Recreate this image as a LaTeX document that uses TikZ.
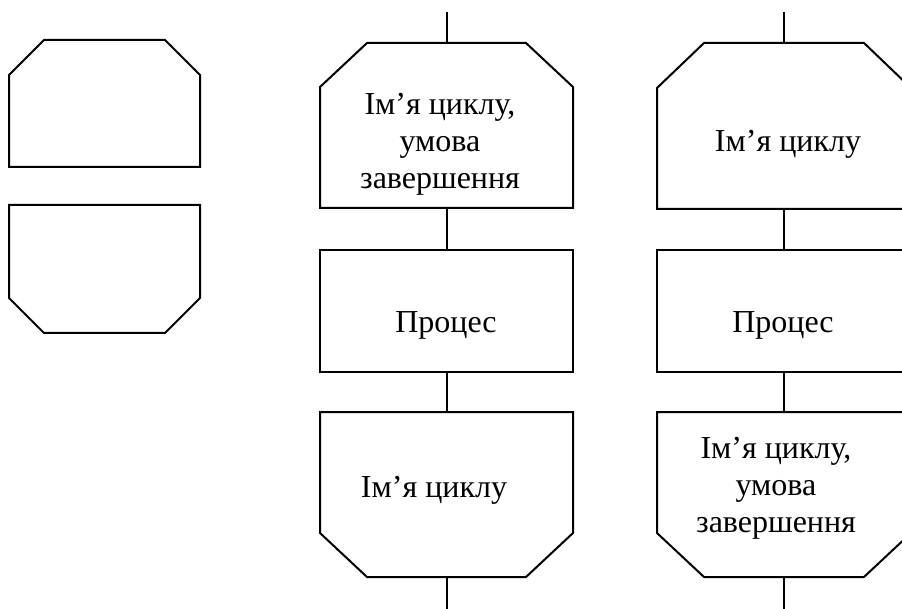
\documentclass[tikz,border=0pt]{standalone}
\usepackage{fontspec}
\setmainfont{Liberation Serif}
\begin{document}
\begin{tikzpicture}[x=1pt,y=-1pt,
  shp/.style={inner sep=0pt,outer sep=0pt},
  ln/.style={line width=2pt,black},
  lbl/.style={inner sep=0pt,font=\fontsize{32}{37}\selectfont,align=center}]
\useasboundingbox (0,0) rectangle (902,609);
\clip (0,0) rectangle (902,609);
% ---- left legend shapes
\node[shp,minimum width=191pt,minimum height=127pt] (lt) at (104.5,103.5) {};
\node[shp,minimum width=191pt,minimum height=128pt] (lb) at (104.5,269) {};
% ---- middle column
\node[shp,minimum width=253pt,minimum height=165pt] (mt) at (446.5,125.5) {};
\node[shp,minimum width=253pt,minimum height=122pt] (mp) at (446.5,311) {};
\node[shp,minimum width=253pt,minimum height=165pt] (mb) at (446.5,494.5) {};
% ---- right column
\node[shp,minimum width=254pt,minimum height=166pt] (rt) at (784,126) {};
\node[shp,minimum width=254pt,minimum height=122pt] (rp) at (784,311) {};
\node[shp,minimum width=254pt,minimum height=165pt] (rb) at (784,494.5) {};
\coordinate (mtop) at (446.5,12);
\coordinate (mend) at (446.5,609);
\coordinate (rtop) at (784,12);
\coordinate (rend) at (784,609);
% shapes: loop start (top chamfered)
\draw[ln] ([shift={(35,0)}]lt.north west) -- ([shift={(-35,0)}]lt.north east) -- ([shift={(0,35)}]lt.north east) -- (lt.south east) -- (lt.south west) -- ([shift={(0,35)}]lt.north west) -- cycle;
\draw[ln] ([shift={(0,-35)}]lb.south west) -- (lb.north west) -- (lb.north east) -- ([shift={(0,-35)}]lb.south east) -- ([shift={(-35,0)}]lb.south east) -- ([shift={(35,0)}]lb.south west) -- cycle;
\draw[ln] ([shift={(47,0)}]mt.north west) -- ([shift={(-47,0)}]mt.north east) -- ([shift={(0,44)}]mt.north east) -- (mt.south east) -- (mt.south west) -- ([shift={(0,44)}]mt.north west) -- cycle;
\draw[ln] (mp.north west) rectangle (mp.south east);
\draw[ln] ([shift={(0,-44)}]mb.south west) -- (mb.north west) -- (mb.north east) -- ([shift={(0,-44)}]mb.south east) -- ([shift={(-47,0)}]mb.south east) -- ([shift={(47,0)}]mb.south west) -- cycle;
\draw[ln] ([shift={(47,0)}]rt.north west) -- ([shift={(-47,0)}]rt.north east) -- ([shift={(0,45)}]rt.north east) -- (rt.south east) -- (rt.south west) -- ([shift={(0,45)}]rt.north west) -- cycle;
\draw[ln] (rp.north west) rectangle (rp.south east);
\draw[ln] ([shift={(0,-44)}]rb.south west) -- (rb.north west) -- (rb.north east) -- ([shift={(0,-44)}]rb.south east) -- ([shift={(-47,0)}]rb.south east) -- ([shift={(47,0)}]rb.south west) -- cycle;
% connectors
\draw[ln] (mtop) -- (mt.north);
\draw[ln] (mt.south) -- (mp.north);
\draw[ln] (mp.south) -- (mb.north);
\draw[ln] (mb.south) -- (mend);
\draw[ln] (rtop) -- (rt.north);
\draw[ln] (rt.south) -- (rp.north);
\draw[ln] (rp.south) -- (rb.north);
\draw[ln] (rb.south) -- (rend);
% labels
\node[lbl] (tmt) at (440,144) {Ім’я циклу,\\умова\\завершення};
\node[lbl,anchor=base] (tmp) at (446,333) {Процес};
\node[lbl,anchor=base] (tmb) at (434,497) {Ім’я циклу};
\node[lbl,anchor=base] (trt) at (788,152) {Ім’я циклу};
\node[lbl,anchor=base] (trp) at (783,333) {Процес};
\node[lbl] (trb) at (776,488) {Ім’я циклу,\\умова\\завершення};
\end{tikzpicture}
\end{document}
